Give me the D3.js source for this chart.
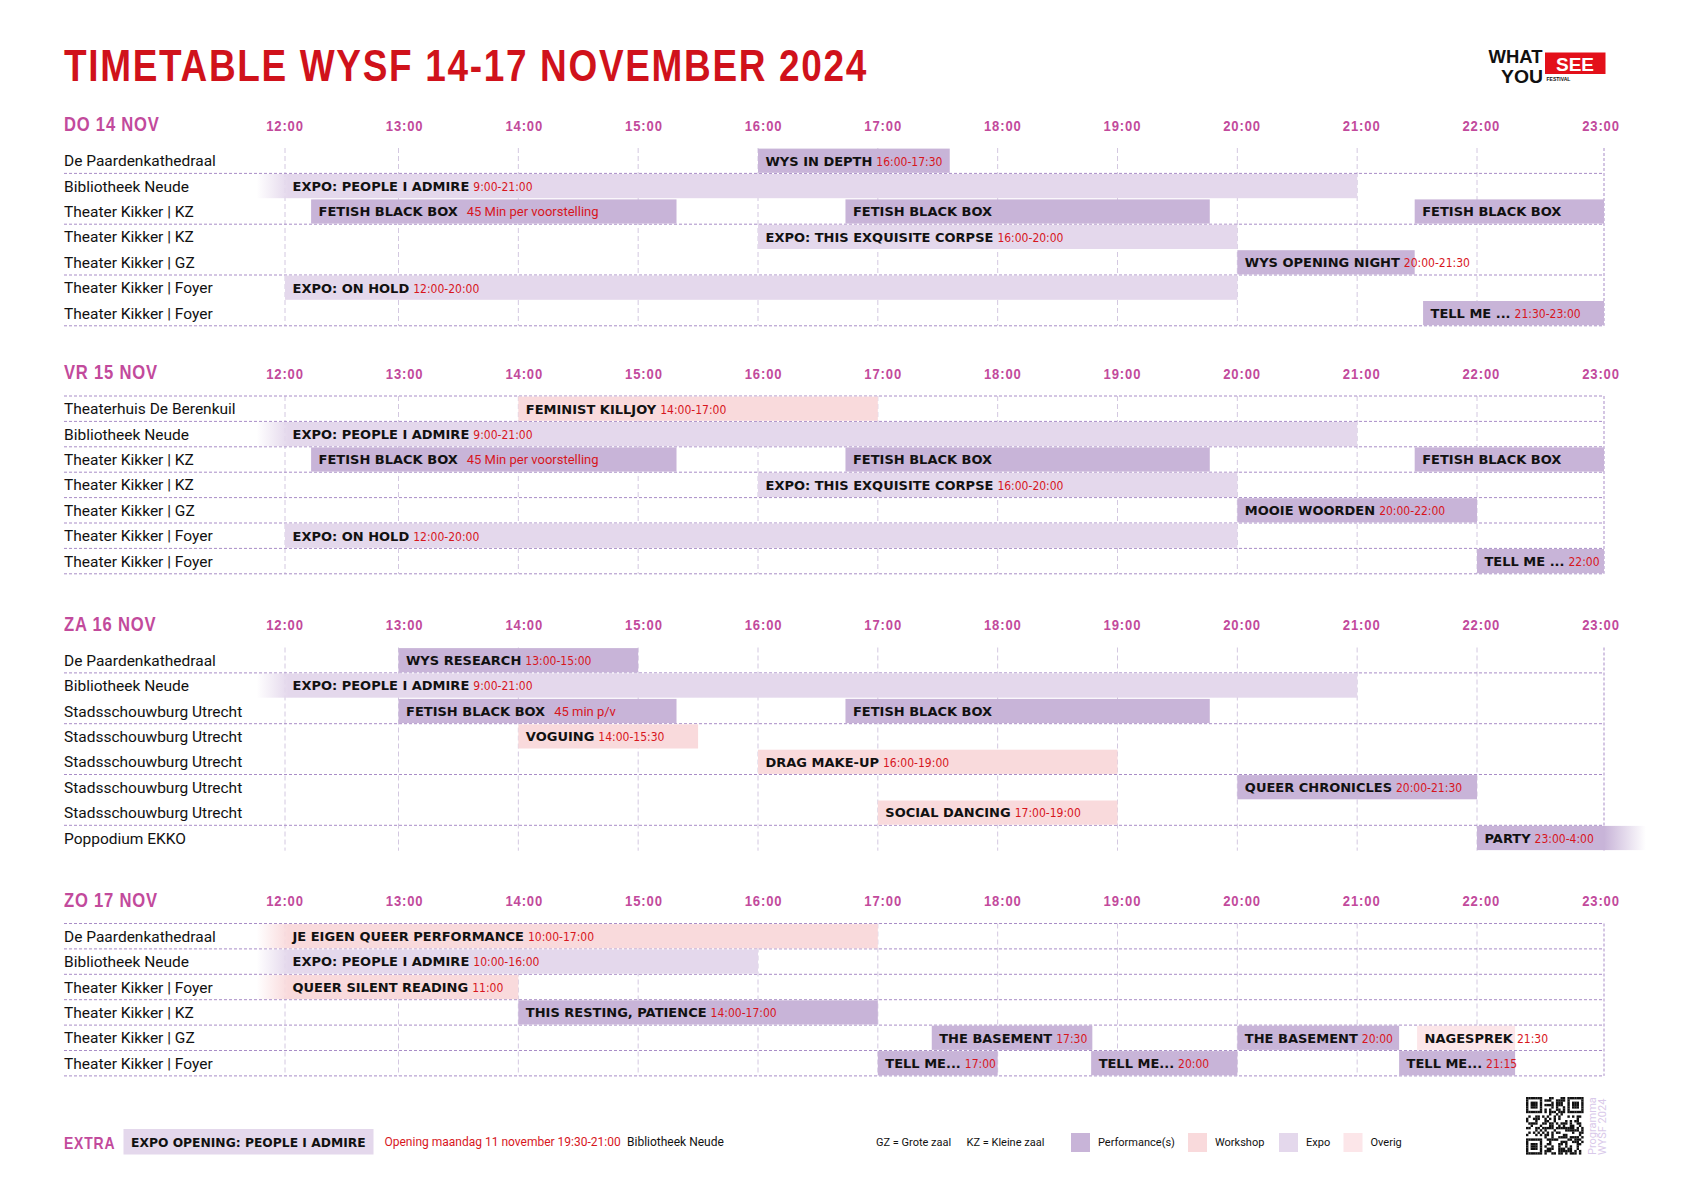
<!DOCTYPE html>
<meta charset="utf-8">
<style>
  body { margin: 0; background: #fff; }
  svg { display: block; }
  .title { font: bold 44px "Liberation Sans", sans-serif; fill: #d0121b; letter-spacing: 2px; }
  .day { font: bold 21px "Liberation Sans", sans-serif; fill: #c24a9c; letter-spacing: 1px; }
  .tick { font: bold 15px "Liberation Sans", sans-serif; fill: #c24a9c; letter-spacing: 1px; }
  .venue { font: 15.5px Roboto, "Liberation Sans", sans-serif; fill: #111; }
  .ev { font: bold 13px "DejaVu Sans", sans-serif; fill: #111; }
  .tm { font: 12px "DejaVu Sans Condensed", "DejaVu Sans", sans-serif; fill: #d7161d; }
  .note { font: 13px Roboto, sans-serif; fill: #d7161d; }
  .small { font: 11px Roboto, sans-serif; fill: #111; }
</style>
<svg width="1684" height="1191"></svg>
<script src="https://cdnjs.cloudflare.com/ajax/libs/d3/7.8.5/d3.min.js"></script>
<script>
  // ---- data ----
  var dayLabels = ["DO 14 NOV", "VR 15 NOV", "ZA 16 NOV", "ZO 17 NOV"];
  var hours = d3.range(12, 24);
  var tickLabels = hours.map(function(h) { return h + ":00"; });

  var typeKeys = ["perf", "work", "expo", "other"];
  var typeLabels = ["Performance(s)", "Workshop", "Expo", "Overig"];

  var venuesDo = ["De Paardenkathedraal", "Bibliotheek Neude", "Theater Kikker | KZ", "Theater Kikker | KZ",
    "Theater Kikker | GZ", "Theater Kikker | Foyer", "Theater Kikker | Foyer"];
  var eventsDo = [
    {row: 0, start: 16, end: 17.6, type: "perf", title: "WYS IN DEPTH", time: "16:00-17:30"},
    {row: 1, start: 9, end: 21, type: "expo", title: "EXPO: PEOPLE I ADMIRE", time: "9:00-21:00"},
    {row: 2, start: 12.23, end: 15.32, type: "perf", title: "FETISH BLACK BOX", note: "45 Min per voorstelling"},
    {row: 2, start: 16.73, end: 19.77, type: "perf", title: "FETISH BLACK BOX"},
    {row: 2, start: 21.48, end: 23, type: "perf", title: "FETISH BLACK BOX"},
    {row: 3, start: 16, end: 20, type: "expo", title: "EXPO: THIS EXQUISITE CORPSE", time: "16:00-20:00"},
    {row: 4, start: 20, end: 21.48, type: "perf", title: "WYS OPENING NIGHT", time: "20:00-21:30"},
    {row: 5, start: 12, end: 20, type: "expo", title: "EXPO: ON HOLD", time: "12:00-20:00"},
    {row: 6, start: 21.55, end: 23, type: "perf", title: "TELL ME ...", time: "21:30-23:00"}
  ];

  var venuesVr = ["Theaterhuis De Berenkuil", "Bibliotheek Neude", "Theater Kikker | KZ", "Theater Kikker | KZ",
    "Theater Kikker | GZ", "Theater Kikker | Foyer", "Theater Kikker | Foyer"];
  var eventsVr = [
    {row: 0, start: 14, end: 17, type: "work", title: "FEMINIST KILLJOY", time: "14:00-17:00"},
    {row: 1, start: 9, end: 21, type: "expo", title: "EXPO: PEOPLE I ADMIRE", time: "9:00-21:00"},
    {row: 2, start: 12.23, end: 15.32, type: "perf", title: "FETISH BLACK BOX", note: "45 Min per voorstelling"},
    {row: 2, start: 16.73, end: 19.77, type: "perf", title: "FETISH BLACK BOX"},
    {row: 2, start: 21.48, end: 23, type: "perf", title: "FETISH BLACK BOX"},
    {row: 3, start: 16, end: 20, type: "expo", title: "EXPO: THIS EXQUISITE CORPSE", time: "16:00-20:00"},
    {row: 4, start: 20, end: 22, type: "perf", title: "MOOIE WOORDEN", time: "20:00-22:00"},
    {row: 5, start: 12, end: 20, type: "expo", title: "EXPO: ON HOLD", time: "12:00-20:00"},
    {row: 6, start: 22, end: 23, type: "perf", title: "TELL ME ...", time: "22:00"}
  ];

  var venuesZa = ["De Paardenkathedraal", "Bibliotheek Neude", "Stadsschouwburg Utrecht", "Stadsschouwburg Utrecht",
    "Stadsschouwburg Utrecht", "Stadsschouwburg Utrecht", "Stadsschouwburg Utrecht", "Poppodium EKKO"];
  var eventsZa = [
    {row: 0, start: 13, end: 15, type: "perf", title: "WYS RESEARCH", time: "13:00-15:00"},
    {row: 1, start: 9, end: 21, type: "expo", title: "EXPO: PEOPLE I ADMIRE", time: "9:00-21:00"},
    {row: 2, start: 13, end: 15.32, type: "perf", title: "FETISH BLACK BOX", note: "45 min p/v"},
    {row: 2, start: 16.73, end: 19.77, type: "perf", title: "FETISH BLACK BOX"},
    {row: 3, start: 14, end: 15.5, type: "work", title: "VOGUING", time: "14:00-15:30"},
    {row: 4, start: 16, end: 19, type: "work", title: "DRAG MAKE-UP", time: "16:00-19:00"},
    {row: 5, start: 20, end: 22, type: "perf", title: "QUEER CHRONICLES", time: "20:00-21:30"},
    {row: 6, start: 17, end: 19, type: "work", title: "SOCIAL DANCING", time: "17:00-19:00"},
    {row: 7, start: 22, end: 28, type: "perf", title: "PARTY", time: "23:00-4:00"}
  ];

  var venuesZo = ["De Paardenkathedraal", "Bibliotheek Neude", "Theater Kikker | Foyer", "Theater Kikker | KZ",
    "Theater Kikker | GZ", "Theater Kikker | Foyer"];
  var eventsZo = [
    {row: 0, start: 10, end: 17, type: "work", title: "JE EIGEN QUEER PERFORMANCE", time: "10:00-17:00"},
    {row: 1, start: 10, end: 16, type: "expo", title: "EXPO: PEOPLE I ADMIRE", time: "10:00-16:00"},
    {row: 2, start: 11, end: 14, type: "work", title: "QUEER SILENT READING", time: "11:00"},
    {row: 3, start: 14, end: 17, type: "perf", title: "THIS RESTING, PATIENCE", time: "14:00-17:00"},
    {row: 4, start: 17.45, end: 18.79, type: "perf", title: "THE BASEMENT", time: "17:30"},
    {row: 4, start: 20, end: 21.35, type: "perf", title: "THE BASEMENT", time: "20:00"},
    {row: 4, start: 21.5, end: 22.3, type: "other", title: "NAGESPREK", time: "21:30"},
    {row: 5, start: 17, end: 18, type: "perf", title: "TELL ME...", time: "17:00"},
    {row: 5, start: 18.78, end: 20, type: "perf", title: "TELL ME...", time: "20:00"},
    {row: 5, start: 21.35, end: 22.3, type: "perf", title: "TELL ME...", time: "21:15"}
  ];

  var days = [
    {label: dayLabels[0], venues: venuesDo, events: eventsDo},
    {label: dayLabels[1], venues: venuesVr, events: eventsVr},
    {label: dayLabels[2], venues: venuesZa, events: eventsZa},
    {label: dayLabels[3], venues: venuesZo, events: eventsZo}
  ];

  // ---- layout ----
  var svg = d3.select("svg");
  var dayTop = [148, 396, 647.5, 923.5];
  var ruleStep = [2, 1, 2, 1];
  var rowH = 25.4;
  var fadeFrom = 11.75, fadeTo = 23.33;

  var x = d3.scaleLinear().domain([12, 13, 22, 23]).range([285, 398.5, 1477, 1604]);
  var xTick = d3.scaleLinear().domain([12, 23]).range([285, 1601]);
  var color = d3.scaleOrdinal().domain(typeKeys).range(["#c8b4d8", "#f9dadc", "#e4d8ec", "#fce6e9"]);

  // squeeze text horizontally to get a condensed face
  function condense(sel, f) {
    sel.each(function() {
      var w = this.getComputedTextLength();
      d3.select(this).attr("textLength", w * f).attr("lengthAdjust", "spacingAndGlyphs");
    });
  }

  var defs = svg.append("defs");
  typeKeys.forEach(function(k) {
    var gl = defs.append("linearGradient").attr("id", "fadeL-" + k)
      .attr("gradientUnits", "userSpaceOnUse")
      .attr("x1", x(fadeFrom)).attr("x2", x(12.03)).attr("y1", 0).attr("y2", 0);
    gl.append("stop").attr("offset", 0).attr("stop-color", color(k)).attr("stop-opacity", 0);
    gl.append("stop").attr("offset", 1).attr("stop-color", color(k)).attr("stop-opacity", 1);
    var gr = defs.append("linearGradient").attr("id", "fadeR-" + k)
      .attr("gradientUnits", "userSpaceOnUse")
      .attr("x1", x(23)).attr("x2", x(fadeTo)).attr("y1", 0).attr("y2", 0);
    gr.append("stop").attr("offset", 0).attr("stop-color", color(k)).attr("stop-opacity", 1);
    gr.append("stop").attr("offset", 1).attr("stop-color", color(k)).attr("stop-opacity", 0);
  });

  // title
  svg.append("text").attr("class", "title")
    .attr("x", 64).attr("y", 80.5)
    .attr("textLength", 804).attr("lengthAdjust", "spacingAndGlyphs")
    .text("TIMETABLE WYSF 14-17 NOVEMBER 2024");

  // logo
  var logo = svg.append("g").style("font-family", "'Liberation Sans', sans-serif").style("font-weight", "bold");
  logo.append("rect").attr("x", 1545).attr("y", 52.5).attr("width", 60.5).attr("height", 21.5).attr("fill", "#e3101a");
  logo.append("text").attr("x", 1488.5).attr("y", 63).style("font-size", "18px").attr("fill", "#111")
    .attr("textLength", 54).attr("lengthAdjust", "spacingAndGlyphs").text("WHAT");
  logo.append("text").attr("x", 1501).attr("y", 83.3).style("font-size", "18px").attr("fill", "#111")
    .attr("textLength", 42).attr("lengthAdjust", "spacingAndGlyphs").text("YOU");
  logo.append("text").attr("x", 1575).attr("y", 71).attr("text-anchor", "middle").style("font-size", "19px")
    .attr("fill", "#fff").text("SEE");
  logo.append("text").attr("x", 1546.5).attr("y", 80.5).style("font-size", "5px").attr("fill", "#111").text("FESTIVAL");

  days.forEach(function(day, di) {
    var top = dayTop[di];
    var n = day.venues.length;
    var bottom = top + n * rowH;
    var g = svg.append("g");

    g.append("text").attr("class", "day").attr("x", 64).attr("y", top - 17).text(day.label)
      .call(condense, 0.79);

    g.selectAll(".tick").data(hours).enter().append("text")
      .attr("class", "tick")
      .attr("x", function(h) { return xTick(h); })
      .attr("y", top - 17.5)
      .attr("text-anchor", "middle")
      .text(function(h, i) { return tickLabels[i]; })
      .call(condense, 0.87);

    // vertical grid
    g.selectAll(".vline").data(hours).enter().append("line")
      .attr("x1", function(h) { return x(h); }).attr("x2", function(h) { return x(h); })
      .attr("y1", top).attr("y2", bottom)
      .attr("stroke", function(h) { return h === 23 ? "#a98dc7" : "#d3c8e0"; })
      .attr("stroke-width", 1)
      .attr("stroke-dasharray", function(h) { return h === 23 ? "3,2" : "5,3"; });

    // horizontal grid
    var rules = d3.range(0, n + 1).filter(function(i) {
      return ruleStep[di] === 1 ? true : (i % 2 === 1);
    });
    g.selectAll(".hline").data(rules).enter().append("line")
      .attr("x1", 64).attr("x2", x(23))
      .attr("y1", function(i) { return top + i * rowH; })
      .attr("y2", function(i) { return top + i * rowH; })
      .attr("stroke", "#a98dc7").attr("stroke-width", 1).attr("stroke-dasharray", "3,2");

    // venues
    g.selectAll(".venue").data(day.venues).enter().append("text")
      .attr("class", "venue")
      .attr("x", 64)
      .attr("y", function(d, i) { return top + i * rowH + rowH / 2 + 5.5; })
      .text(function(d) { return d; });

    // bars
    g.selectAll(".bar").data(day.events).enter().append("rect")
      .attr("x", function(d) { return x(Math.max(d.start, fadeFrom)); })
      .attr("y", function(d) { return top + d.row * rowH + 0.6; })
      .attr("width", function(d) { return x(Math.min(d.end, fadeTo)) - x(Math.max(d.start, fadeFrom)); })
      .attr("height", rowH - 1.2)
      .attr("fill", function(d) {
        if (d.start < 12) return "url(#fadeL-" + d.type + ")";
        if (d.end > 23) return "url(#fadeR-" + d.type + ")";
        return color(d.type);
      });

    var lab = g.selectAll(".lab").data(day.events).enter().append("text")
      .attr("x", function(d) { return x(Math.max(d.start, 12)) + 7.5; })
      .attr("y", function(d) { return top + d.row * rowH + rowH / 2 + 4.8; });
    lab.append("tspan").attr("class", "ev").text(function(d) { return d.title; });
    lab.filter(function(d) { return d.time; }).append("tspan").attr("class", "tm")
      .attr("dx", 4).text(function(d) { return d.time; });
    lab.filter(function(d) { return d.note; }).append("tspan").attr("class", "note")
      .attr("dx", 9).text(function(d) { return d.note; });
  });

  // ---- footer ----
  var foot = svg.append("g");
  foot.append("text").attr("class", "day").attr("x", 64).attr("y", 1149).style("font-size", "17px").text("EXTRA")
    .call(condense, 0.82);
  foot.append("rect").attr("x", 123.5).attr("y", 1129).attr("width", 250).attr("height", 25.5).attr("fill", color("expo"));
  foot.append("text").attr("class", "ev").attr("x", 131).attr("y", 1146.5).style("font-size", "12.3px")
    .text("EXPO OPENING: PEOPLE I ADMIRE");
  foot.append("text").attr("class", "note").attr("x", 384.5).attr("y", 1146).style("font-size", "12px")
    .text("Opening maandag 11 november 19:30-21:00");
  foot.append("text").attr("class", "small").attr("x", 627).attr("y", 1146).style("font-size", "12px")
    .text("Bibliotheek Neude");
  foot.append("text").attr("class", "small").attr("x", 876).attr("y", 1146).text("GZ = Grote zaal");
  foot.append("text").attr("class", "small").attr("x", 966.5).attr("y", 1146).text("KZ = Kleine zaal");

  var legendX = [1071, 1188, 1279, 1343.5];
  var legend = foot.selectAll(".legend").data(typeKeys).enter().append("g")
    .attr("transform", function(d, i) { return "translate(" + legendX[i] + ",1133)"; });
  legend.append("rect").attr("width", 19).attr("height", 19).attr("fill", color);
  legend.append("text").attr("class", "small").attr("x", 27).attr("y", 13)
    .text(function(d, i) { return typeLabels[i]; });

  // QR-like block
  var qr = foot.append("g").attr("transform", "translate(1526,1097)");
  var m = 25, cell = 2.3, seed = 7;
  function bit() { seed = (seed * 1103515245 + 12345) % 2147483648; return (seed >> 16) & 1; }
  for (var r = 0; r < m; r++) {
    for (var c = 0; c < m; c++) {
      var on;
      var fx = -1, fy = -1;
      if (r < 7 && c < 7) { fx = c; fy = r; }
      else if (r < 7 && c >= m - 7) { fx = c - (m - 7); fy = r; }
      else if (r >= m - 7 && c < 7) { fx = c; fy = r - (m - 7); }
      if (fx >= 0) {
        on = (fx === 0 || fx === 6 || fy === 0 || fy === 6 || (fx >= 2 && fx <= 4 && fy >= 2 && fy <= 4)) ? 1 : 0;
      } else if ((r === 7 && c < 8) || (c === 7 && r < 8) || (r === 7 && c >= m - 8) || (c === m - 8 && r < 8) ||
                 (r === m - 8 && c < 8) || (c === 7 && r >= m - 8)) {
        on = 0;
      } else {
        on = bit();
      }
      if (on) qr.append("rect").attr("x", c * cell).attr("y", r * cell).attr("width", cell + 0.1).attr("height", cell + 0.1).attr("fill", "#111");
    }
  }
  var vt = foot.append("text").attr("transform", "translate(1596,1155) rotate(-90)")
    .style("font", "11px Roboto, sans-serif").attr("fill", "#d9c9ea");
  vt.append("tspan").attr("x", 0).attr("y", 0).text("Programma");
  vt.append("tspan").attr("x", 0).attr("y", 10).text("WYSF 2024");
</script>
